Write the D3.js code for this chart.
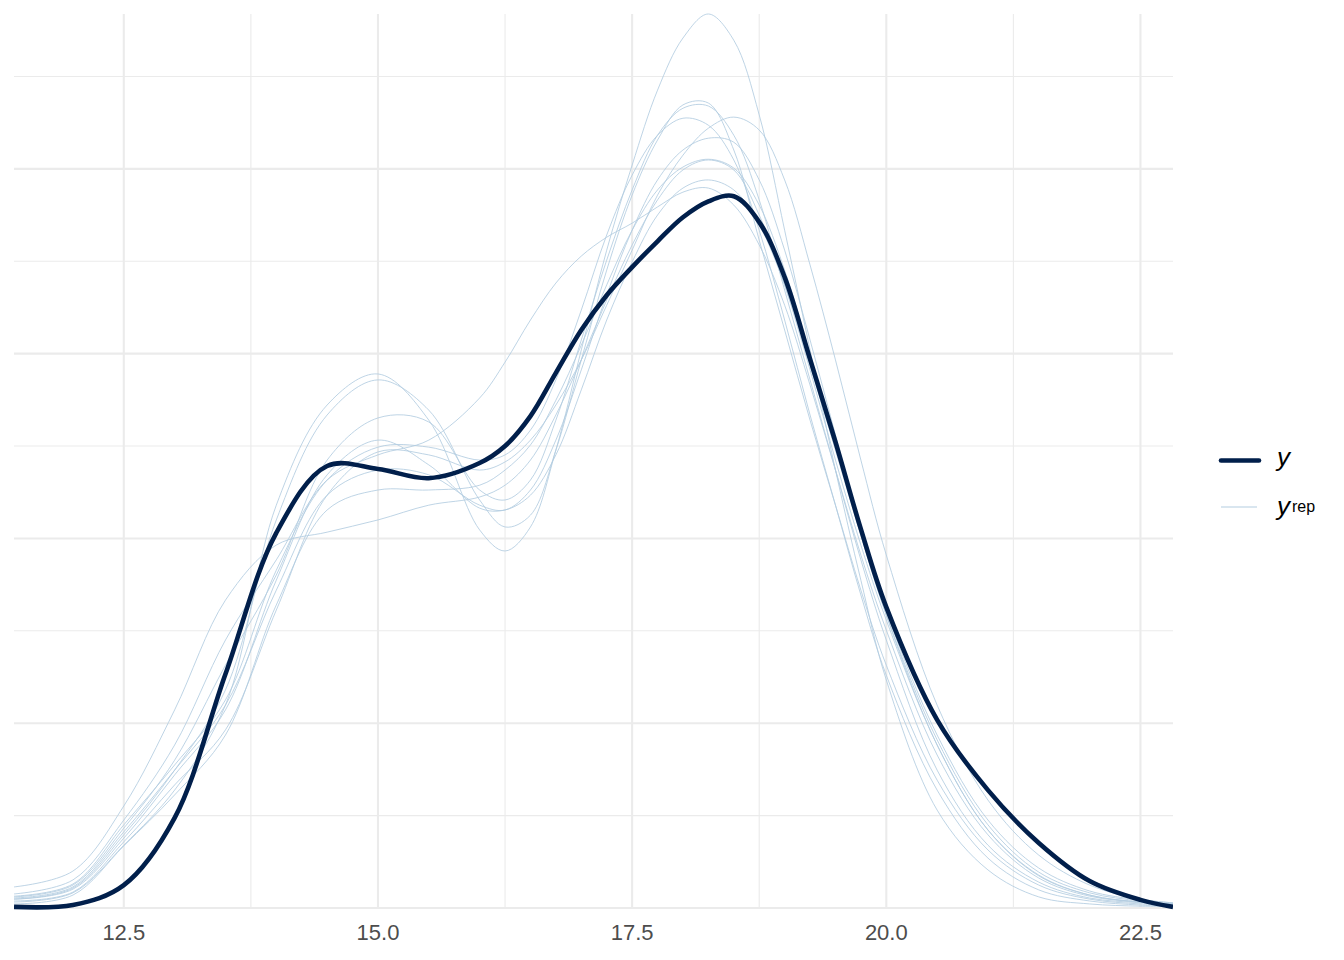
<!DOCTYPE html>
<meta charset="utf-8">
<style>
body { margin: 0; background: white; }
text { font-family: "Liberation Sans", Arial, sans-serif; }
.tick-label { fill: #4d4d4d; font-size: 22px; }
</style>
<body>
<script src="https://d3js.org/d3.v7.min.js"></script>
<script>
// density grid (x values) shared by every curve
var xs = [11.42, 12, 12.5, 13, 13.5, 14, 14.5, 15, 15.5, 16, 16.25, 16.5, 16.75, 17, 17.25, 17.5,
          17.75, 18, 18.25, 18.5, 18.75, 19, 19.25, 19.5, 19.75, 20, 20.5, 21, 21.5, 22, 22.5, 22.82];

// observed y density
var yObs = [0.0003, 0.0008, 0.0062, 0.0244, 0.0633, 0.1015, 0.1196, 0.1188, 0.1163, 0.1204, 0.1250, 0.1331,
            0.1448, 0.1564, 0.1658, 0.1734, 0.1804, 0.1869, 0.1912, 0.1926, 0.1856, 0.1707, 0.1485, 0.1261,
            0.1025, 0.0814, 0.0509, 0.0319, 0.0176, 0.0073, 0.0022, 0.0003];

// replicated densities (yrep draws)
var yrep1 = [0.0016, 0.0041, 0.0170, 0.0319, 0.0549, 0.1090, 0.1361, 0.1445, 0.1320, 0.1023, 0.0966, 0.1031,
             0.1239, 0.1510, 0.1780, 0.2010, 0.2213, 0.2354, 0.2419, 0.2348, 0.2146, 0.1834, 0.1510, 0.1185,
             0.0887, 0.0617, 0.0265, 0.0103, 0.0030, 0.0011, 0.0005, 0.0005];
var yrep2 = [0.0024, 0.0054, 0.0198, 0.0373, 0.0590, 0.1050, 0.1334, 0.1429, 0.1347, 0.1104, 0.1031, 0.1063,
             0.1239, 0.1483, 0.1726, 0.1929, 0.2078, 0.2173, 0.2178, 0.2051, 0.1807, 0.1564, 0.1320, 0.1090,
             0.0860, 0.0657, 0.0346, 0.0157, 0.0062, 0.0024, 0.0011, 0.0008];
var yrep3 = [0.0030, 0.0062, 0.0216, 0.0400, 0.0657, 0.0901, 0.1212, 0.1326, 0.1315, 0.1131, 0.1104, 0.1158,
             0.1320, 0.1537, 0.1753, 0.1943, 0.2091, 0.2164, 0.2170, 0.2091, 0.1916, 0.1672, 0.1429, 0.1185,
             0.0942, 0.0725, 0.0373, 0.0170, 0.0070, 0.0027, 0.0014, 0.0008];
var yrep4 = [0.0057, 0.0100, 0.0276, 0.0536, 0.0833, 0.0982, 0.1017, 0.1050, 0.1090, 0.1112, 0.1144, 0.1212,
             0.1334, 0.1483, 0.1645, 0.1794, 0.1916, 0.1997, 0.2024, 0.1997, 0.1875, 0.1686, 0.1456, 0.1212,
             0.0982, 0.0779, 0.0441, 0.0211, 0.0089, 0.0035, 0.0016, 0.0011];
var yrep5 = [0.0038, 0.0076, 0.0238, 0.0441, 0.0725, 0.0942, 0.1158, 0.1226, 0.1266, 0.1380, 0.1477, 0.1591,
             0.1691, 0.1764, 0.1815, 0.1853, 0.1897, 0.1937, 0.1948, 0.1902, 0.1794, 0.1631, 0.1415, 0.1185,
             0.0955, 0.0752, 0.0414, 0.0198, 0.0081, 0.0032, 0.0016, 0.0011];
var yrep6 = [0.0019, 0.0043, 0.0179, 0.0333, 0.0482, 0.0806, 0.1117, 0.1234, 0.1226, 0.1185, 0.1207, 0.1266,
             0.1361, 0.1483, 0.1631, 0.1780, 0.1929, 0.2037, 0.2110, 0.2140, 0.2105, 0.1970, 0.1740, 0.1483,
             0.1212, 0.0955, 0.0549, 0.0292, 0.0143, 0.0062, 0.0024, 0.0014];
var yrep7 = [0.0027, 0.0057, 0.0206, 0.0373, 0.0549, 0.0860, 0.1117, 0.1185, 0.1172, 0.1090, 0.1077, 0.1131,
             0.1266, 0.1456, 0.1659, 0.1834, 0.1970, 0.2051, 0.2083, 0.2072, 0.1970, 0.1780, 0.1537, 0.1280,
             0.1023, 0.0793, 0.0441, 0.0211, 0.0087, 0.0035, 0.0016, 0.0011];
var yrep8 = [0.0032, 0.0065, 0.0225, 0.0387, 0.0563, 0.0914, 0.1158, 0.1247, 0.1247, 0.1212, 0.1226, 0.1293,
             0.1429, 0.1618, 0.1821, 0.1983, 0.2091, 0.2137, 0.2118, 0.2024, 0.1834, 0.1591, 0.1334, 0.1090,
             0.0847, 0.0630, 0.0319, 0.0135, 0.0049, 0.0019, 0.0008, 0.0005];
var yrep9 = [0.0011, 0.0035, 0.0168, 0.0306, 0.0468, 0.0820, 0.1077, 0.1131, 0.1131, 0.1144, 0.1185, 0.1253,
             0.1374, 0.1523, 0.1686, 0.1834, 0.1943, 0.2005, 0.2026, 0.2002, 0.1902, 0.1726, 0.1496, 0.1253,
             0.1009, 0.0793, 0.0455, 0.0225, 0.0097, 0.0041, 0.0019, 0.0011];
var yrep10 = [0.0024, 0.0051, 0.0189, 0.0360, 0.0536, 0.0887, 0.1172, 0.1266, 0.1199, 0.1082, 0.1077, 0.1117,
              0.1226, 0.1402, 0.1591, 0.1748, 0.1875, 0.1948, 0.1970, 0.1943, 0.1848, 0.1686, 0.1469, 0.1239,
              0.1009, 0.0801, 0.0468, 0.0238, 0.0108, 0.0046, 0.0022, 0.0014];

var yrepAll = [yrep1, yrep2, yrep3, yrep4, yrep5, yrep6, yrep7, yrep8, yrep9, yrep10];

var xTicks = [12.5, 15.0, 17.5, 20.0, 22.5];
var xMinor = [13.75, 16.25, 18.75, 21.25];
var yMajor = [0, 0.05, 0.10, 0.15, 0.20];
var yMinor = [0.025, 0.075, 0.125, 0.175, 0.225];

var legendLabels = ["y", "yrep"];

// sizes
var width = 1344, height = 960;
var panel = {left: 14, right: 1173, top: 14, bottom: 908};

var x = d3.scaleLinear().domain([d3.min(xs), d3.max(xs)]).range([panel.left, panel.right]);
var yMax = d3.max(yrepAll.concat([yObs]), function(s) { return d3.max(s); });
var y = d3.scaleLinear().domain([0, yMax]).range([panel.bottom, panel.top]);

var svg = d3.select("body").append("svg")
    .attr("width", width)
    .attr("height", height);

svg.append("rect").attr("width", width).attr("height", height).attr("fill", "white");

svg.append("defs").append("clipPath").attr("id", "panel")
  .append("rect")
    .attr("x", panel.left).attr("y", panel.top - 2)
    .attr("width", panel.right - panel.left).attr("height", panel.bottom - panel.top + 4);

// grid
var grid = svg.append("g").attr("stroke", "#ebebeb").attr("fill", "none");
grid.selectAll(".ymin").data(yMinor).enter().append("line")
    .attr("x1", panel.left).attr("x2", panel.right)
    .attr("y1", function(d) { return y(d); }).attr("y2", function(d) { return y(d); })
    .attr("stroke-width", 1.1);
grid.selectAll(".xmin").data(xMinor).enter().append("line")
    .attr("y1", panel.top).attr("y2", panel.bottom)
    .attr("x1", function(d) { return x(d); }).attr("x2", function(d) { return x(d); })
    .attr("stroke-width", 1.1);
grid.selectAll(".ymaj").data(yMajor).enter().append("line")
    .attr("x1", panel.left).attr("x2", panel.right)
    .attr("y1", function(d) { return y(d); }).attr("y2", function(d) { return y(d); })
    .attr("stroke-width", 2.1);
grid.selectAll(".xmaj").data(xTicks).enter().append("line")
    .attr("y1", panel.top).attr("y2", panel.bottom)
    .attr("x1", function(d) { return x(d); }).attr("x2", function(d) { return x(d); })
    .attr("stroke-width", 2.1);

// density lines
var line = d3.line()
    .x(function(d, i) { return x(xs[i]); })
    .y(function(d) { return y(d); })
    .curve(d3.curveCatmullRom.alpha(0.5));

var plot = svg.append("g").attr("clip-path", "url(#panel)");

plot.selectAll(".yrep").data(yrepAll).enter().append("path")
    .attr("class", "yrep")
    .attr("d", line)
    .attr("fill", "none")
    .attr("stroke", "#b3cde0")
    .attr("stroke-opacity", 0.85)
    .attr("stroke-width", 1);

plot.append("path")
    .attr("d", line(yObs))
    .attr("fill", "none")
    .attr("stroke", "#011f4b")
    .attr("stroke-width", 4.6)
    .attr("stroke-linejoin", "round");

// x axis labels
svg.selectAll(".tick-label").data(xTicks).enter().append("text")
    .attr("class", "tick-label")
    .attr("x", function(d) { return x(d); })
    .attr("y", 940)
    .attr("text-anchor", "middle")
    .text(function(d) { return d3.format(".1f")(d); });

// legend
var legend = svg.append("g").attr("transform", "translate(1220,0)");
legend.append("line")
    .attr("x1", 1).attr("x2", 39).attr("y1", 460.5).attr("y2", 460.5)
    .attr("stroke", "#011f4b").attr("stroke-width", 4.6).attr("stroke-linecap", "round");
legend.append("line")
    .attr("x1", 1).attr("x2", 37).attr("y1", 507).attr("y2", 507)
    .attr("stroke", "#b3cde0").attr("stroke-width", 1);

legend.append("text")
    .attr("x", 57).attr("y", 466)
    .attr("font-size", 26).attr("font-style", "italic").attr("fill", "#000")
    .text(legendLabels[0]);
var rep = legend.append("text")
    .attr("x", 57).attr("y", 515)
    .attr("font-size", 26).attr("fill", "#000");
rep.append("tspan").attr("font-style", "italic").text(legendLabels[1].charAt(0));
rep.append("tspan").attr("font-size", 16).attr("dy", -3).attr("dx", 2).text(legendLabels[1].slice(1));
</script>
</body>
